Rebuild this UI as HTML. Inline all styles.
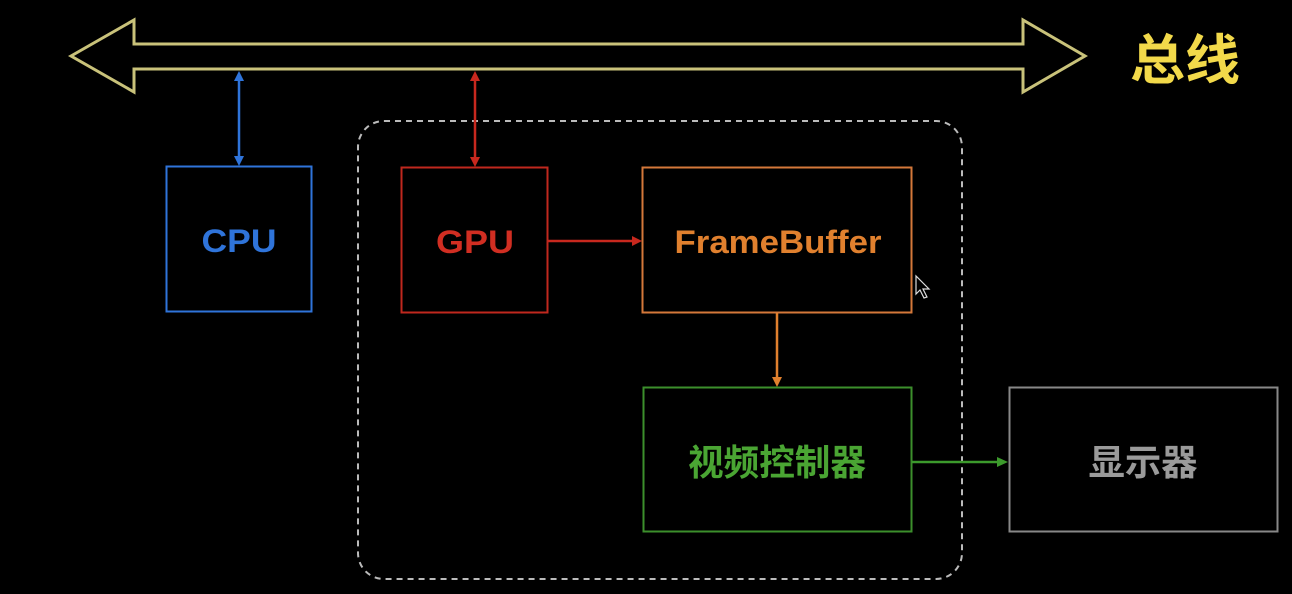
<!DOCTYPE html>
<html><head><meta charset="utf-8"><style>
html,body{margin:0;padding:0;background:#000;width:1292px;height:594px;overflow:hidden}
svg text{font-family:"Liberation Sans","Noto Sans CJK SC",sans-serif;font-weight:bold}
</style></head><body>
<svg width="1292" height="594" viewBox="0 0 1292 594" xmlns="http://www.w3.org/2000/svg">
<rect width="1292" height="594" fill="#000"/>
<polygon points="71,56 134,20 134,44 1023,44 1023,20 1085,56 1023,92 1023,69 134,69 134,92" fill="none" stroke="#c9c27a" stroke-width="3" stroke-linejoin="miter"/>
<text x="1130" y="79" font-size="54" fill="#f2d94a" textLength="110" lengthAdjust="spacingAndGlyphs">总线</text>
<rect x="358" y="121" width="604" height="458" rx="26" fill="none" stroke="#bbb" stroke-width="2" stroke-dasharray="6,5"/>
<!-- CPU -->
<line x1="239" y1="75" x2="239" y2="163" stroke="#2f74da" stroke-width="2.5"/>
<polygon points="239,71 234,81 244,81" fill="#2f74da"/>
<polygon points="239,166 234,156 244,156" fill="#2f74da"/>
<rect x="166.5" y="166.5" width="145" height="145" fill="none" stroke="#2f74da" stroke-width="2"/>
<text x="239" y="252" font-size="32" fill="#2f74da" text-anchor="middle" textLength="75" lengthAdjust="spacingAndGlyphs">CPU</text>
<!-- GPU -->
<line x1="475" y1="75" x2="475" y2="163" stroke="#c8281e" stroke-width="2.5"/>
<polygon points="475,71 470,81 480,81" fill="#c8281e"/>
<polygon points="475,167 470,157 480,157" fill="#c8281e"/>
<rect x="401.5" y="167.5" width="146" height="145" fill="none" stroke="#c0281e" stroke-width="2"/>
<text x="475" y="253" font-size="32" fill="#d12e22" text-anchor="middle" textLength="78" lengthAdjust="spacingAndGlyphs">GPU</text>
<line x1="548" y1="241" x2="634" y2="241" stroke="#c8281e" stroke-width="2.5"/>
<polygon points="642,241 632,236 632,246" fill="#c8281e"/>
<!-- FrameBuffer -->
<rect x="642.5" y="167.5" width="269" height="145" fill="none" stroke="#d4783a" stroke-width="2"/>
<text x="778" y="253" font-size="32" fill="#e0802e" text-anchor="middle" textLength="207" lengthAdjust="spacingAndGlyphs">FrameBuffer</text>
<line x1="777" y1="313" x2="777" y2="378" stroke="#e0802e" stroke-width="2.5"/>
<polygon points="777,387 772,377 782,377" fill="#e0802e"/>
<!-- Video controller -->
<rect x="643.5" y="387.5" width="268" height="144" fill="none" stroke="#3c8f2c" stroke-width="2"/>
<text x="777" y="475" font-size="36" fill="#4aa533" text-anchor="middle" textLength="178" lengthAdjust="spacingAndGlyphs">视频控制器</text>
<line x1="912" y1="462" x2="999" y2="462" stroke="#3c9a2c" stroke-width="2.5"/>
<polygon points="1008,462 997,457 997,467" fill="#3c9a2c"/>
<!-- Display -->
<rect x="1009.5" y="387.5" width="268" height="144" fill="none" stroke="#888" stroke-width="2"/>
<text x="1143" y="475" font-size="36" fill="#9a9a9a" text-anchor="middle" textLength="109" lengthAdjust="spacingAndGlyphs">显示器</text>
<!-- cursor -->
<polygon points="916,276 916,294 920,290 924,298 927,297 923,289 929,289" fill="#000" stroke="#ddd" stroke-width="1.2"/>
</svg>
</body></html>
